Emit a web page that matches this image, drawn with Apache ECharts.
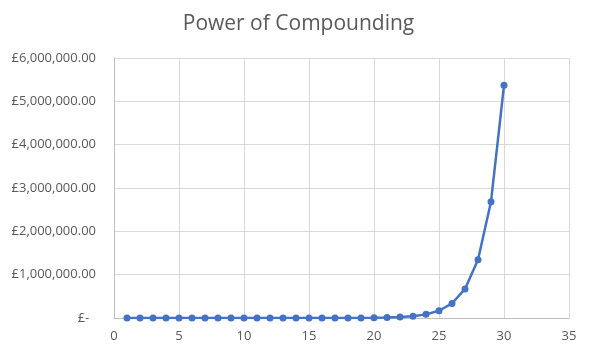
<!DOCTYPE html>
<html>
<head>
<meta charset="utf-8">
<script src="https://cdn.jsdelivr.net/npm/echarts@6/dist/echarts.min.js"></script>
<style>html,body{margin:0;padding:0;background:#fff}#c{width:597px;height:357px}</style>
</head>
<body>
<div id="c"></div>
<script>
const titleText = 'Power of Compounding';
const days = [1,2,3,4,5,6,7,8,9,10,11,12,13,14,15,16,17,18,19,20,21,22,23,24,25,26,27,28,29,30];
const values = [0.01,0.02,0.04,0.08,0.16,0.32,0.64,1.28,2.56,5.12,10.24,20.48,40.96,81.92,163.84,327.68,655.36,1310.72,2621.44,5242.88,10485.76,20971.52,41943.04,83886.08,167772.16,335544.32,671088.64,1342177.28,2684354.56,5368709.12];

const chart = echarts.init(document.getElementById('c'));
const font = 'Open Sans, sans-serif';
chart.setOption({
  animation: false,
  title: { text: titleText, left: 'center', top: 9, textStyle: { fontFamily: font, fontSize: 21, fontWeight: 'normal', color: '#595959' } },
  grid: { left: 114, right: 28, top: 58, bottom: 39, containLabel: false },
  xAxis: {
    type: 'value', min: 0, max: 35, interval: 5,
    axisLine: { show: true, lineStyle: { color: '#BFBFBF' } },
    axisTick: { show: false },
    splitLine: { show: true, lineStyle: { color: '#D9D9D9' } },
    axisLabel: { fontFamily: font, fontSize: 13, color: '#595959', margin: 12 }
  },
  yAxis: {
    type: 'value', min: 0, max: 6000000, interval: 1000000,
    axisLine: { show: true, lineStyle: { color: '#BFBFBF' } },
    axisTick: { show: false },
    splitLine: { show: true, lineStyle: { color: '#D9D9D9' } },
    axisLabel: { fontFamily: font, fontSize: 13, color: '#595959', margin: 18,
      formatter: v => v === 0 ? '£-  ' : '£' + v.toLocaleString('en-GB', {minimumFractionDigits: 2, maximumFractionDigits: 2}) }
  },
  series: [{
    type: 'line',
    data: days.map((d, i) => [d, values[i]]),
    symbol: 'circle', symbolSize: 7,
    lineStyle: { color: '#4472C4', width: 2.5 },
    itemStyle: { color: '#4472C4' }
  }]
});
</script>
</body>
</html>
